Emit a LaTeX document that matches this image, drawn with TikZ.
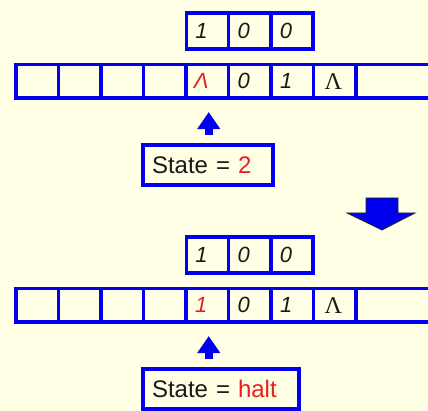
\documentclass[tikz,border=0pt]{standalone}
\usepackage{fontspec}
\setmainfont{Liberation Sans}
\newfontfamily\greekserif{Liberation Serif}
\usetikzlibrary{arrows.meta}

\definecolor{paper}{RGB}{255,255,230}
\definecolor{tapeblue}{RGB}{0,0,238}
\definecolor{mark}{RGB}{232,30,30}
\definecolor{ink}{RGB}{25,25,25}

% symbol set left of the cell centre, as the tape prints it
\newcommand{\onleft}[1]{\hspace*{-12pt}#1}
% upright serif blank symbol
\newcommand{\blanksym}{\hspace*{-3pt}{\upshape\greekserif\fontsize{24}{28}\selectfont Λ}}

\begin{document}
\begin{tikzpicture}[x=1pt,y=-1pt,
  cell/.style={draw=tapeblue, line width=3.6pt, minimum width=42.5pt,
    minimum height=33.5pt, inner sep=0pt, outer sep=0pt, text=ink,
    font=\fontsize{22}{26}\selectfont\itshape},
  regcell/.style={cell, minimum width=42.2pt, minimum height=35.7pt},
  tapeline/.style={draw=tapeblue, line width=3.6pt},
  statebox/.style={draw=tapeblue, line width=3.6pt, anchor=west, outer sep=0pt,
    minimum height=39.5pt, inner xsep=9pt, inner ysep=0pt, align=left, text=ink,
    font=\fontsize{24}{28}\selectfont},
  headarrow/.style={draw=tapeblue, line width=7.5pt,
    -{Triangle[length=17pt,width=22pt]}, shorten <=10pt, shorten >=14pt}
]
  % background and page size
  \fill[paper] (0,0) rectangle (428,411);
  \useasboundingbox (0,0) rectangle (428,411);

  % ---------- before the step ----------
  % register holding 1 0 0
  \node[regcell] (ra1) at (207.4,31) {\onleft{1}};
  \node[regcell] (ra2) at (249.7,31) {\onleft{0}};
  \node[regcell] (ra3) at (292.0,31) {\onleft{0}};

  % tape
  \foreach \i in {1,...,4}
    \node[cell] (a\i) at ({16+42.5*(\i-0.5)},81.3) {};
  \node[cell] (a5) at (207.25,81.3) {\onleft{\textcolor{mark}{Λ}}};
  \node[cell] (a6) at (249.75,81.3) {\onleft{0}};
  \node[cell] (a7) at (292.25,81.3) {\onleft{1}};
  \node[cell] (a8) at (334.75,81.3) {\blanksym};
  \coordinate (aend) at (432,81.3);
  \draw[tapeline] (a8.north east) -- (a8.north east -| aend);
  \draw[tapeline] (a8.south east) -- (a8.south east -| aend);

  % state
  \node[statebox, text width=112pt] (sa) at (143,165)
    {State = \textcolor{mark}{2}};
  \draw[headarrow] ([xshift=1.5pt]sa.north -| a5) -- ([xshift=1.5pt]a5.south);

  % step arrow
  \filldraw[fill=tapeblue, draw=black!85, line width=0.8pt, line join=miter]
    (366,198) -- (398,198) -- (398,213) -- (415,213) -- (382,230)
    -- (347,213) -- (366,213) -- cycle;

  % ---------- after the step ----------
  \node[regcell] (rb1) at (207.4,255) {\onleft{1}};
  \node[regcell] (rb2) at (249.7,255) {\onleft{0}};
  \node[regcell] (rb3) at (292.0,255) {\onleft{0}};

  \foreach \i in {1,...,4}
    \node[cell] (b\i) at ({16+42.5*(\i-0.5)},305.3) {};
  \node[cell] (b5) at (207.25,305.3) {\onleft{\textcolor{mark}{1}}};
  \node[cell] (b6) at (249.75,305.3) {\onleft{0}};
  \node[cell] (b7) at (292.25,305.3) {\onleft{1}};
  \node[cell] (b8) at (334.75,305.3) {\blanksym};
  \coordinate (bend) at (432,305.3);
  \draw[tapeline] (b8.north east) -- (b8.north east -| bend);
  \draw[tapeline] (b8.south east) -- (b8.south east -| bend);

  \node[statebox, text width=138pt] (sb) at (143,389)
    {State = \textcolor{mark}{halt}};
  \draw[headarrow] ([xshift=1.5pt]sb.north -| b5) -- ([xshift=1.5pt]b5.south);
\end{tikzpicture}
\end{document}
